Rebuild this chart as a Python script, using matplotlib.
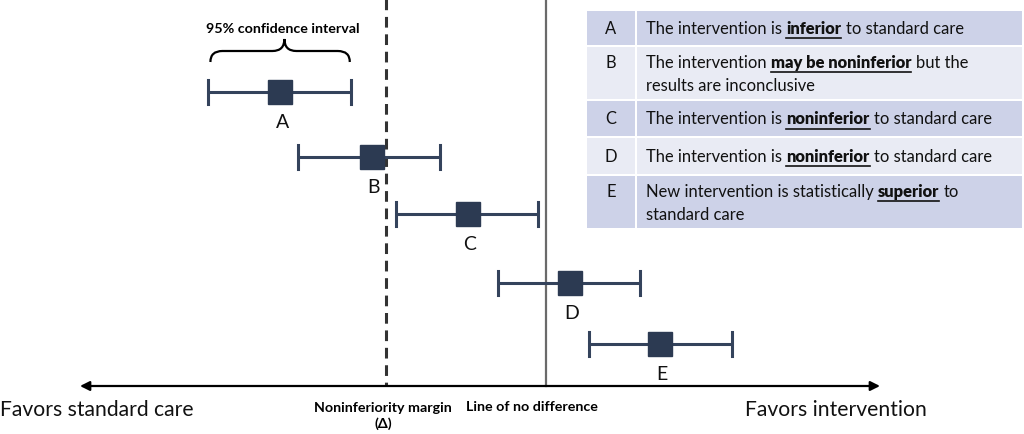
import matplotlib
matplotlib.use("Agg")
import matplotlib.pyplot as plt
from matplotlib.path import Path
from matplotlib.patches import PathPatch, Rectangle

# effect estimates (scale: 0 = no difference, -1 = noninferiority margin)
labels = ["A", "B", "C", "D", "E"]
estimate = [-1.66, -1.09, -0.49, 0.15, 0.71]
ci_low = [-2.11, -1.55, -0.94, -0.30, 0.27]
ci_high = [-1.22, -0.66, -0.05, 0.59, 1.16]
margin = -1.0
no_diff = 0.0

# table text: list of (text, bold+underline) pieces per line
table_rows = [
    ("A", [[("The intervention is", False), ("inferior", True), ("to standard care", False)]]),
    ("B", [[("The intervention", False), ("may be noninferior", True), ("but the", False)],
           [("results are inconclusive", False)]]),
    ("C", [[("The intervention is", False), ("noninferior", True), ("to standard care", False)]]),
    ("D", [[("The intervention is", False), ("noninferior", True), ("to standard care", False)]]),
    ("E", [[("New intervention is statistically", False), ("superior", True), ("to", False)],
           [("standard care", False)]]),
]

FONT = "Lato"
navy = "#34435c"
TFS = 11.9  # table font size
SFS = 10.3  # small bold labels

fig = plt.figure(figsize=(10.24, 4.35), dpi=100)
ax = fig.add_axes([0, 0, 1, 1])
# x in effect units, y in pixel rows
x0, unit = 546, 160.0
ax.set_xlim((0 - x0) / unit, (1024 - x0) / unit)
ax.set_ylim(435, 0)
ax.axis("off")

row_y = [93, 158, 215, 284, 345]
label_dy = 30

def px(v):
    return v / unit

# reference lines
ax.plot([margin, margin], [0, 387], color="#333333", lw=2.2, ls=(0, (3.5, 2.2)))
ax.plot([no_diff, no_diff], [0, 387], color="#6a6a6a", lw=1.6)

# horizontal axis with arrows at both ends
ax.annotate("", xy=(px(80 - x0), 387), xytext=(px(880 - x0), 387),
            arrowprops=dict(arrowstyle="<|-|>", color="black", lw=1.6,
                            mutation_scale=14, shrinkA=0, shrinkB=0))

# confidence intervals
for lab, est, lo, hi, y in zip(labels, estimate, ci_low, ci_high, row_y):
    ax.plot([lo, hi], [y, y], color=navy, lw=2.2, solid_capstyle="butt")
    for xe in (lo, hi):
        ax.plot([xe, xe], [y - 12, y + 12], color=navy, lw=2.2)
    ax.plot(est, y, marker="s", ms=17, color="#2c3a52", mec="#2c3a52")
    ax.text(est + px(2), y + label_dy, lab, ha="center", va="center",
            fontsize=14, family=FONT, color="#111111")

# brace above A
bl, br = ci_low[0] + px(2), ci_high[0] - px(1)
bm = estimate[0] + px(4)
yb, yh, yt = 63, 52, 40
r = px(12)
verts = [(bl, yb), (bl, yh), (bl + r, yh), (bl + r, yh),
         (bm - r, yh), (bm - r, yh), (bm, yh), (bm, yt),
         (bm, yh), (bm + r, yh), (bm + r, yh),
         (br - r, yh), (br - r, yh), (br, yh), (br, yb)]
codes = [Path.MOVETO, Path.CURVE3, Path.CURVE3, Path.LINETO,
         Path.LINETO, Path.LINETO, Path.CURVE3, Path.CURVE3,
         Path.CURVE3, Path.CURVE3, Path.LINETO,
         Path.LINETO, Path.LINETO, Path.CURVE3, Path.CURVE3]
ax.add_patch(PathPatch(Path(verts, codes), fill=False, lw=1.6, ec="black"))
ax.text(bm - px(2), 29, "95% confidence interval", ha="center", va="center",
        fontsize=SFS, fontweight="bold", family=FONT)

# axis annotations
ax.text(px(0 - x0), 410, "Favors standard care", ha="left", va="center",
        fontsize=15.2, family=FONT, color="#111111")
ax.text(px(745 - x0), 410, "Favors intervention", ha="left", va="center",
        fontsize=15.2, family=FONT, color="#111111")
ax.text(margin - px(3), 416, "Noninferiority margin\n(\u0394)", ha="center", va="center",
        fontsize=SFS, fontweight="bold", family=FONT, linespacing=1.25)
ax.text(no_diff - px(14), 407, "Line of no difference", ha="center", va="center",
        fontsize=SFS, fontweight="bold", family=FONT)

# table
band_top = [12, 48, 102, 139, 177]
band_bot = [46, 100, 137, 175, 229]
band_col = ["#cdd2e8", "#e9ebf4", "#cdd2e8", "#e9ebf4", "#cdd2e8"]
tx0, tx1, tdiv = 587, 1022, 636
for t, b, c in zip(band_top, band_bot, band_col):
    ax.add_patch(Rectangle((px(tx0 - x0), t), px(tdiv - tx0 - 1), b - t, fc=c, ec="none"))
    ax.add_patch(Rectangle((px(tdiv + 1 - x0), t), px(tx1 - tdiv - 1), b - t, fc=c, ec="none"))

fig.canvas.draw()
renderer = fig.canvas.get_renderer()
inv = ax.transData.inverted()

def width_px(s, bold):
    t = ax.text(0, 0, s, fontsize=TFS, family=FONT, fontweight="bold" if bold else "normal")
    w = t.get_window_extent(renderer).width
    t.remove()
    return w

space_w = width_px("x x", False) - width_px("xx", False)

for (lab, lines), t, b in zip(table_rows, band_top, band_bot):
    n = len(lines)
    mid = (t + b) / 2
    ax.text(px(611 - x0), mid if n == 1 else t + 15, lab, ha="center", va="center",
            fontsize=TFS, family=FONT, color="#111111")
    for i, pieces in enumerate(lines):
        yl = (mid if n == 1 else t + 15 + i * 23)
        xd = ax.transData.transform((px(646 - x0), yl))[0]
        for s, bold in pieces:
            xdat = inv.transform((xd, 0))[0]
            txt = ax.text(xdat, yl, s, ha="left", va="center", fontsize=TFS, family=FONT,
                          fontweight="heavy" if bold else "normal", color="#111111")
            ext = txt.get_window_extent(renderer)
            if bold:
                yline = yl + 10
                ax.plot([xdat, inv.transform((ext.x1, 0))[0]], [yline, yline],
                        color="#111111", lw=1.2)
            xd = ext.x1 + space_w

fig.savefig("out.png", dpi=100)
